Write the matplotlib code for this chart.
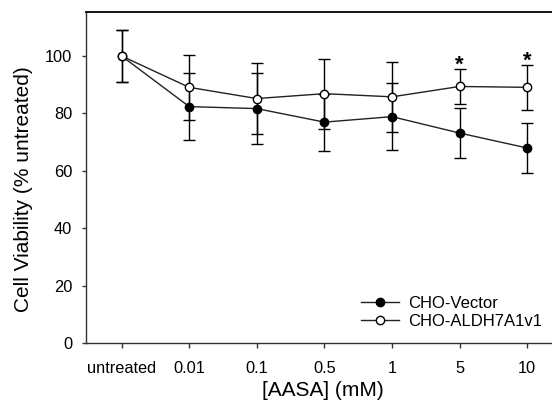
import matplotlib
matplotlib.use("Agg")
import matplotlib.pyplot as plt
import numpy as np

plt.rcParams["font.family"] = ["Liberation Sans", "DejaVu Sans"]

doses = ["untreated", "0.01", "0.1", "0.5", "1", "5", "10"]
vector_mean = [100.0, 82.4, 81.7, 77.0, 78.9, 73.2, 68.0]
vector_err = [9.1, 11.7, 12.3, 9.9, 11.7, 8.6, 8.6]
aldh_mean = [100.0, 89.1, 85.2, 86.9, 85.8, 89.4, 89.1]
aldh_err = [9.1, 11.2, 12.5, 12.2, 12.2, 6.1, 7.9]
significant = ["5", "10"]

x = np.arange(len(doses))

fig = plt.figure(figsize=(5.52, 4.05), dpi=100)
ax = fig.add_axes([0.156, 0.152, 0.859, 0.819])

# error bars first, then lines with markers (legend shows line + marker only)
for mean, err in [(vector_mean, vector_err), (aldh_mean, aldh_err)]:
    ax.errorbar(x, mean, yerr=err, fmt="none", ecolor="black",
                elinewidth=1.0, capsize=4.5, capthick=1.0, zorder=1)
ax.plot(x, vector_mean, color="#222222", lw=1.0, marker="o", markersize=6,
        markerfacecolor="black", markeredgecolor="black",
        label="CHO-Vector", zorder=2)
ax.plot(x, aldh_mean, color="#222222", lw=1.0, marker="o", markersize=6,
        markerfacecolor="white", markeredgecolor="black",
        label="CHO-ALDH7A1v1", zorder=3)

for dose in significant:
    i = doses.index(dose)
    ax.text(x[i], aldh_mean[i] + aldh_err[i] - 0.6, "*", ha="center",
            va="baseline", fontsize=16, fontweight="bold")

ax.set_xlim(-0.525, 6.49)
ax.set_ylim(0, 115.4)
ax.set_xticks(x)
ax.set_xticklabels(doses)
ax.set_yticks([0, 20, 40, 60, 80, 100])
ax.tick_params(axis="x", direction="out", length=3.5, width=1, pad=9,
               labelsize=11.8, color="#333333")
ax.tick_params(axis="y", direction="out", length=3, width=1, pad=7,
               labelsize=11.8, color="#333333")
for side in ["left", "bottom", "top"]:
    ax.spines[side].set_linewidth(1.0)
    ax.spines[side].set_color("#333333")
ax.spines["top"].set_color("black")
ax.spines["top"].set_linewidth(1.3)

ax.set_xlabel("[AASA] (mM)", fontsize=15)
ax.set_ylabel("Cell Viability (% untreated)", fontsize=15)
ax.xaxis.set_label_coords(0.5, -0.114)
ax.yaxis.set_label_coords(-0.112, 0.465)

ax.legend(loc="upper left", bbox_to_anchor=(361 / 552, 0.27),
          bbox_transform=fig.transFigure, frameon=False, fontsize=12,
          borderpad=0, borderaxespad=0, handlelength=2.25,
          handletextpad=0.6, labelspacing=0.2)

fig.savefig("out.png", dpi=100)
